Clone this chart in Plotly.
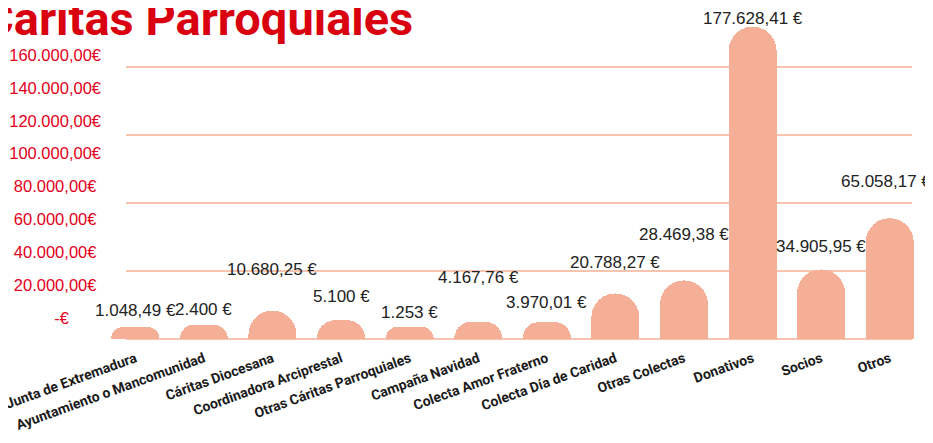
import plotly.graph_objects as go

CATEGORIES = ["Junta de Extremadura", "Ayuntamiento o Mancomunidad", "Cáritas Diocesana",
              "Coordinadora Arciprestal", "Otras Cáritas Parroquiales", "Campaña Navidad",
              "Colecta Amor Fraterno", "Colecta Día de Caridad", "Otras Colectas",
              "Donativos", "Socios", "Otros"]
VALUES = [1048.49, 2400, 10680.25, 5100, 1253, 4167.76, 3970.01, 20788.27,
          28469.38, 177628.41, 34905.95, 65058.17]
Y_TICK_VALUES = [0, 20000, 40000, 60000, 80000, 100000, 120000, 140000, 160000]
Y_TICK_LABELS = ["-€", "20.000,00€", "40.000,00€", "60.000,00€", "80.000,00€",
                 "100.000,00€", "120.000,00€", "140.000,00€", "160.000,00€"]
GRID_VALUES = [0, 40000, 80000, 120000, 160000]
TITLE = "Cáritas Parroquiales"

# label offsets (px) relative to value point
LABEL_SHIFT = [27, 25, 51, 34, 24, 54, 30, 41, 56, 19, 33, 47]
LABEL_DX = [0, 0, 0, 0, 0, 0, 0, 0, 0, 0, 0, -4]
CAP = 6000  # decorative rounded cap on top of each bar

W, H = 933, 443
OFF = 8  # page body margin
BAR_COLOR = "#F5AF96"
GRID_COLOR = "#F8C4AF"
RED = "#E2001A"
NB = "\u00a0"


def fmt(v):
    if abs(v - round(v)) < 1e-9:
        s = f"{int(round(v)):,}".replace(",", ".")
    else:
        s = f"{v:,.2f}".replace(",", "X").replace(".", ",").replace("X", ".")
    return s + " €"


def pad(t):
    if len(t) <= 3:
        return t + NB * 7
    if len(t) <= 10:
        return t + NB
    return t


def fx(p):
    return (p - OFF) / W


def fy(p):
    return 1 - (p - OFF) / H


PLOT_TOP, PLOT_BOTTOM = 9, 339
PX_PER_UNIT = 272 / 160000
YMAX = (PLOT_BOTTOM - PLOT_TOP) / PX_PER_UNIT
LBL_PX = 263 / 160000
LBL_ZERO = 318
y3_range = [-(PLOT_BOTTOM - LBL_ZERO) / LBL_PX, (LBL_ZERO - PLOT_TOP) / LBL_PX]

fig = go.Figure()

fig.add_trace(go.Scatter(x=CATEGORIES, y=VALUES, mode="markers", marker=dict(opacity=0),
                         hoverinfo="skip", showlegend=False, xaxis="x", yaxis="y"))
fig.add_trace(go.Scatter(x=CATEGORIES, y=VALUES, mode="markers", marker=dict(opacity=0),
                         hoverinfo="skip", showlegend=False, xaxis="x", yaxis="y3"))

fig.add_trace(go.Bar(x=CATEGORIES, y=VALUES, marker=dict(color=BAR_COLOR, line=dict(width=0)),
                     xaxis="x2", yaxis="y2", showlegend=False, hoverinfo="x+y"))
fig.add_trace(go.Bar(x=CATEGORIES, y=[CAP] * len(CATEGORIES),
                     marker=dict(color=BAR_COLOR, line=dict(width=0)),
                     xaxis="x2", yaxis="y2", showlegend=False, hoverinfo="skip"))

annotations = []
for c, v, s, dx in zip(CATEGORIES, VALUES, LABEL_SHIFT, LABEL_DX):
    annotations.append(dict(x=c, y=v, xref="x2", yref="y2", text=fmt(v), showarrow=False,
                            yanchor="middle", xanchor="center", yshift=s, xshift=dx,
                            font=dict(family="Liberation Sans, Arial, sans-serif", size=17,
                                      color="#222222")))

annotations.append(dict(x=0, y=1, xref="paper", yref="paper", text="<b>" + TITLE + "</b>",
                        showarrow=False, xanchor="left", yanchor="top", xshift=-27, yshift=19,
                        font=dict(family="Roboto, sans-serif", size=47, color="#D9000F")))

fig.update_layout(
    template="none",
    width=W, height=H,
    margin=dict(l=0, r=0, t=0, b=0, autoexpand=False),
    paper_bgcolor="white", plot_bgcolor="rgba(0,0,0,0)",
    barmode="stack", bargap=0.3, barcornerradius=24,
    showlegend=False,
    annotations=annotations,
    xaxis=dict(domain=[fx(126), fx(912)], anchor="y", visible=False, automargin=False,
               range=[-0.5, len(CATEGORIES) - 0.5]),
    yaxis=dict(domain=[fy(PLOT_BOTTOM), fy(PLOT_TOP)], anchor="x", range=[0, YMAX],
               tickmode="array", tickvals=GRID_VALUES,
               showgrid=True, gridcolor=GRID_COLOR, gridwidth=1.5, griddash="solid",
               zeroline=True, zerolinecolor=GRID_COLOR, zerolinewidth=1.5, automargin=False,
               showticklabels=False, ticks="", showline=False),
    xaxis2=dict(domain=[fx(101), fx(924)], anchor="y2", range=[-0.5, len(CATEGORIES) - 0.5],
                tickangle=-20, ticks="", showline=False, showgrid=False, zeroline=False,
                automargin=False, ticklabelstandoff=8,
                tickfont=dict(family="Roboto, sans-serif", size=14, color="#1a1a1a",
                              weight="bold")),
    yaxis2=dict(domain=[fy(PLOT_BOTTOM), fy(PLOT_TOP)], anchor="x2", range=[0, YMAX],
                visible=False, showgrid=False, zeroline=False, automargin=False),
    yaxis3=dict(overlaying="y", anchor="x", side="left", automargin=False,
                range=y3_range, tickvals=Y_TICK_VALUES,
                ticktext=[pad(t) for t in Y_TICK_LABELS],
                showgrid=False, zeroline=False, ticks="", showline=False,
                ticklabelstandoff=24,
                tickfont=dict(family="Liberation Sans, Arial, sans-serif",
                              size=16.5, color=RED)),
)

fig.write_html("out.html")
